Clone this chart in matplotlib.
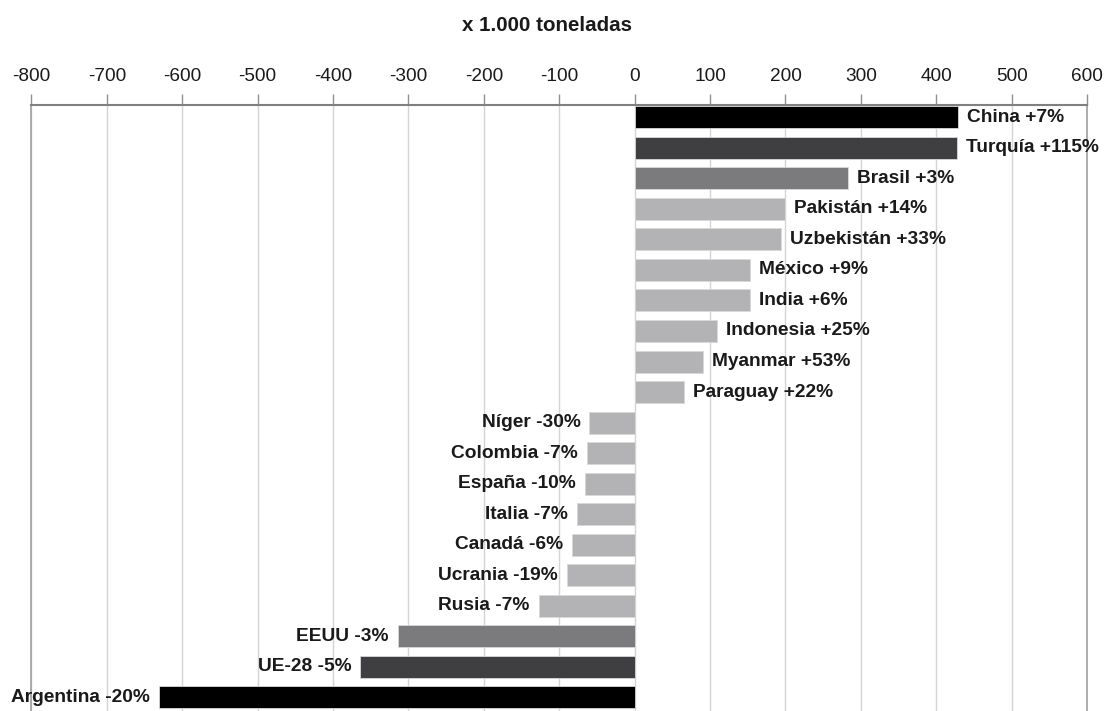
import matplotlib
matplotlib.use("Agg")
import matplotlib.pyplot as plt

countries = ["China", "Turquía", "Brasil", "Pakistán", "Uzbekistán", "México", "India",
             "Indonesia", "Myanmar", "Paraguay", "Níger", "Colombia", "España", "Italia",
             "Canadá", "Ucrania", "Rusia", "EEUU", "UE-28", "Argentina"]
values = [429, 428, 283, 199, 194, 153, 153, 109, 90, 65,
          -60, -63, -66, -77, -83, -90, -127, -314, -364, -631]
changes = ["+7%", "+115%", "+3%", "+14%", "+33%", "+9%", "+6%", "+25%", "+53%", "+22%",
           "-30%", "-7%", "-10%", "-7%", "-6%", "-19%", "-7%", "-3%", "-5%", "-20%"]
colors = ["#000000", "#3f3f42", "#7b7b7e"] + ["#b3b3b6"] * 14 + ["#7b7b7e", "#3f3f42", "#000000"]
xticks = list(range(-800, 601, 100))

plt.rcParams['font.family'] = ['Liberation Sans', 'DejaVu Sans']
fig = plt.figure(figsize=(11.07, 7.11), dpi=100)
ax = fig.add_axes([0.0284, 0.0, 0.9536, 0.853])

ypos = list(range(len(countries)))
ax.barh(ypos, values, height=0.72, color=colors, edgecolor="#d8d8d8", linewidth=0.6, zorder=3)

for y, v, c, ch in zip(ypos, values, countries, changes):
    label = f"{c} {ch}"
    if v >= 0:
        ax.annotate(label, (v, y), xytext=(6.5, 0), textcoords="offset points",
                    ha="left", va="center", fontsize=13.8, fontweight="bold", color="#1a1a1a", zorder=4)
    else:
        ax.annotate(label, (v, y), xytext=(-6.5, 0), textcoords="offset points",
                    ha="right", va="center", fontsize=13.8, fontweight="bold", color="#1a1a1a", zorder=4)

ax.set_xlim(-800, 600)
ax.set_ylim(19.45, -0.42)
ax.set_xticks(xticks)
ax.set_xticklabels([str(t) for t in xticks], fontsize=13.7, color="#1a1a1a")
ax.xaxis.tick_top()
ax.tick_params(axis="x", length=8, width=1, color="#909090", pad=6)
ax.set_yticks([])
ax.grid(axis="x", color="#d4d4d4", linewidth=1, zorder=0)
for s in ["left", "right"]:
    ax.spines[s].set_color("#a0a0a0")
    ax.spines[s].set_linewidth(1.2)
ax.spines["top"].set_color("#808080")
ax.spines["top"].set_linewidth(1.5)
ax.spines["bottom"].set_visible(False)

fig.text(0.494, 0.964, "x 1.000 toneladas", ha="center", va="center",
         fontsize=14.8, fontweight="bold", color="#1a1a1a")

fig.savefig("out.png", dpi=100)
